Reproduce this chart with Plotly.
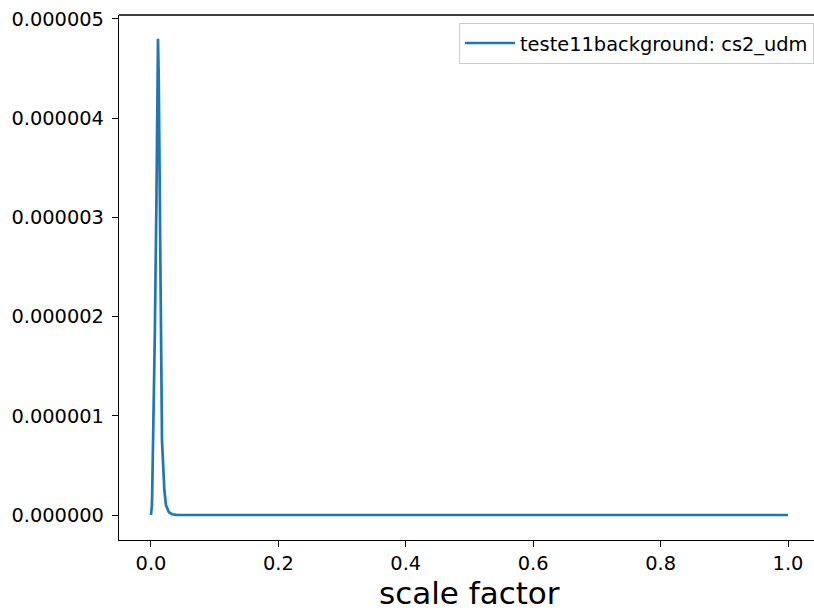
import plotly.graph_objects as go

# Squared sound speed of the ultra-light dark matter component vs. scale factor
scale_factor = [0.0, 0.0015, 0.002, 0.0036, 0.006, 0.0086, 0.0103, 0.011,
                0.0122, 0.014, 0.0157, 0.0173, 0.021, 0.0235, 0.028, 0.033,
                0.04, 0.05, 0.1, 0.2, 0.3, 0.4, 0.5, 0.6, 0.7, 0.8, 0.9, 1.0]
cs2_udm = [0.0, 0.1e-6, 0.25e-6, 0.75e-6, 1.8e-6, 3.2e-6, 4.4e-6, 4.8e-6,
           4.4e-6, 3.2e-6, 1.8e-6, 0.75e-6, 0.25e-6, 0.1e-6, 0.03e-6, 0.008e-6,
           0.001e-6, 0.0, 0.0, 0.0, 0.0, 0.0, 0.0, 0.0, 0.0, 0.0, 0.0, 0.0]

x_ticks = [0.0, 0.2, 0.4, 0.6, 0.8, 1.0]
y_ticks = [0.0, 1e-6, 2e-6, 3e-6, 4e-6, 5e-6]

FONT = "DejaVu Sans"
BLUE = "#1f77b4"
TICK_SIZE = 19.4

fig = go.Figure()
fig.add_trace(go.Scatter(
    x=scale_factor, y=cs2_udm, mode="lines",
    name="teste11background: cs2_udm",
    line=dict(color=BLUE, width=2.7),
))

fig.update_layout(
    width=814, height=610,
    margin=dict(l=119, r=0, t=15, b=70),
    paper_bgcolor="white", plot_bgcolor="white",
    font=dict(family=FONT, size=TICK_SIZE, color="black"),
    showlegend=True,
    legend=dict(
        x=1.0, xanchor="right", y=0.985, yanchor="top",
        bgcolor="rgba(255,255,255,0.8)", bordercolor="#cccccc", borderwidth=1,
        font=dict(family=FONT, size=TICK_SIZE, color="black"),
        itemwidth=50,
    ),
    xaxis=dict(
        range=[-0.0502, 1.0408], tickvals=x_ticks, tickformat=".1f",
        showgrid=False, zeroline=False, showline=True, linecolor="black",
        linewidth=1.4, ticks="outside", ticklen=6, tickwidth=1.4,
        tickcolor="black", ticklabelstandoff=0,
    ),
    yaxis=dict(
        range=[-0.252e-6, 5.04e-6], tickvals=y_ticks, tickformat=".6f",
        showgrid=False, zeroline=False, showline=True, linecolor="black",
        linewidth=1.4, ticks="outside", ticklen=6, tickwidth=1.4,
        tickcolor="black", ticklabelstandoff=4,
    ),
    shapes=[dict(type="line", xref="paper", yref="paper", x0=0, x1=1, y0=1, y1=1,
                 line=dict(color="black", width=1.4))],
    annotations=[dict(text="scale factor", xref="x", yref="paper", x=0.5, y=0,
                      yshift=-53, yanchor="middle", xanchor="center", showarrow=False,
                      font=dict(family=FONT, size=31, color="black"))],
)

fig.write_html("out.html")
